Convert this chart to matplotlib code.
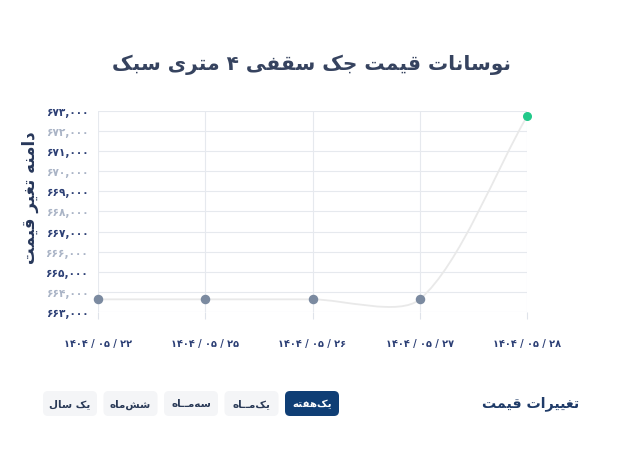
import re
import numpy as np
import matplotlib
matplotlib.use("Agg")
import matplotlib.pyplot as plt
from matplotlib.path import Path
from matplotlib.patches import PathPatch, FancyBboxPatch

# داده‌ها
dates = ["۱۴۰۴ / ۰۵ / ۲۲", "۱۴۰۴ / ۰۵ / ۲۵", "۱۴۰۴ / ۰۵ / ۲۶", "۱۴۰۴ / ۰۵ / ۲۷", "۱۴۰۴ / ۰۵ / ۲۸"]
prices = [663630, 663630, 663630, 663630, 672730]
y_ticks = [663000, 664000, 665000, 666000, 667000, 668000, 669000, 670000, 671000, 672000, 673000]
periods = ["یک سال", "شش\u200cماه", "سه\u200cمــاه", "یک\u200cمــاه", "یک\u200cهفته"]
selected = "یک\u200cهفته"

title = "نوسانات قیمت جک سقفی ۴ متری سبک"
ylabel = "دامنه تغیر قیمت"
footer = "تغییرات قیمت"

# شکل‌دهی ساده حروف فارسی (matplotlib خودش اتصال و راست‌به‌چپ ندارد)
FORMS = {
    "ا": ("\uFE8D", "\uFE8E", None, None),
    "ب": ("\uFE8F", "\uFE90", "\uFE91", "\uFE92"),
    "ت": ("\uFE95", "\uFE96", "\uFE97", "\uFE98"),
    "ج": ("\uFE9D", "\uFE9E", "\uFE9F", "\uFEA0"),
    "د": ("\uFEA9", "\uFEAA", None, None),
    "ر": ("\uFEAD", "\uFEAE", None, None),
    "س": ("\uFEB1", "\uFEB2", "\uFEB3", "\uFEB4"),
    "ش": ("\uFEB5", "\uFEB6", "\uFEB7", "\uFEB8"),
    "غ": ("\uFECD", "\uFECE", "\uFECF", "\uFED0"),
    "ف": ("\uFED1", "\uFED2", "\uFED3", "\uFED4"),
    "ق": ("\uFED5", "\uFED6", "\uFED7", "\uFED8"),
    "ک": ("\uFB8E", "\uFB8F", "\uFB90", "\uFB91"),
    "ل": ("\uFEDD", "\uFEDE", "\uFEDF", "\uFEE0"),
    "م": ("\uFEE1", "\uFEE2", "\uFEE3", "\uFEE4"),
    "ن": ("\uFEE5", "\uFEE6", "\uFEE7", "\uFEE8"),
    "ه": ("\uFEE9", "\uFEEA", "\uFEEB", "\uFEEC"),
    "و": ("\uFEED", "\uFEEE", None, None),
    "ی": ("\uFBFC", "\uFBFD", "\uFBFE", "\uFBFF"),
    "ـ": ("ـ", "ـ", "ـ", "ـ"),
}


def fa(s):
    out = []
    for i, c in enumerate(s):
        f = FORMS.get(c)
        if f is None:
            out.append(c)
            continue
        p = s[i - 1] if i > 0 else ""
        n = s[i + 1] if i + 1 < len(s) else ""
        jp = p in FORMS and FORMS[p][2] is not None
        jn = f[2] is not None and n in FORMS
        if jp and jn:
            out.append(f[3])
        elif jp:
            out.append(f[1])
        elif jn:
            out.append(f[2])
        else:
            out.append(f[0])
    vis = "".join(out).replace("\u200c", "")
    tokens = re.findall(r"[0-9۰-۹]+|.", vis)
    return "".join(reversed(tokens))


to_fa = str.maketrans("0123456789", "۰۱۲۳۴۵۶۷۸۹")

plt.rcParams["font.family"] = ["DejaVu Sans"]

W, H = 622, 456
fig = plt.figure(figsize=(W / 100, H / 100), dpi=100)
fig.patch.set_facecolor("white")

ax = fig.add_axes([98 / W, 1 - 313 / H, (527 - 98) / W, (313 - 112) / H])
x = np.arange(len(prices))
ax.set_xlim(0, len(prices) - 1)
ax.set_ylim(663000, 673000)

# منحنی نرم به سبک Chart.js
tension = 0.28
pts = ax.transData.transform(np.column_stack([x, prices]))
n = len(pts)
cp_prev = pts.copy()
cp_next = pts.copy()
for i in range(n):
    prev = pts[max(i - 1, 0)]
    nxt = pts[min(i + 1, n - 1)]
    d01 = np.hypot(*(pts[i] - prev))
    d12 = np.hypot(*(nxt - pts[i]))
    tot = d01 + d12 if d01 + d12 > 0 else 1
    cp_prev[i] = pts[i] - tension * d01 / tot * (nxt - prev)
    cp_next[i] = pts[i] + tension * d12 / tot * (nxt - prev)
verts = [pts[0]]
codes = [Path.MOVETO]
for i in range(n - 1):
    verts += [cp_next[i], cp_prev[i + 1], pts[i + 1]]
    codes += [Path.CURVE4] * 3
verts = ax.transData.inverted().transform(np.array(verts))
ax.add_patch(PathPatch(Path(verts, codes), facecolor="none", edgecolor="#e9e9e9",
                       lw=1.3, zorder=2, clip_on=False))

ax.scatter(x[:-1], prices[:-1], s=34, color="#7b8aa0", zorder=3, clip_on=False)
ax.scatter(x[-1:], prices[-1:], s=30, color="#22c98a", zorder=3, clip_on=False)

ax.set_xticks(x)
ax.set_xticklabels(dates, fontsize=7, fontweight="bold", color="#2c3f75")
ax.set_yticks(y_ticks)
ax.set_yticklabels([f"{v:,}".translate(to_fa) for v in y_ticks], fontsize=7.6, fontweight="bold")
for i, lab in enumerate(ax.get_yticklabels()):
    lab.set_color("#2c3f75" if i % 2 == 0 else "#aab4c6")
ax.tick_params(axis="x", length=5, color="#dfe3ea", width=0.8, pad=14)
ax.tick_params(axis="y", length=0, pad=7)
ax.grid(True, color="#e6e9ee", lw=0.8)
ax.set_axisbelow(True)
for sp in ax.spines.values():
    sp.set_visible(False)

# لایه‌ی رویی با مختصات پیکسلی
ov = fig.add_axes([0, 0, 1, 1], zorder=-1)
ov.set_xlim(0, W)
ov.set_ylim(H, 0)
ov.axis("off")

ov.text(311, 65, fa(title), ha="center", va="center", fontsize=14.5,
        fontweight="bold", color="#36435f")
ov.text(30, 198, fa(ylabel), ha="center", va="center", rotation=90,
        fontsize=12, fontweight="bold", color="#27375a")
ov.text(579, 404, fa(footer), ha="right", va="center", fontsize=10.2,
        fontweight="bold", color="#1f3b68")

bx = 43
for p in periods:
    sel = p == selected
    ov.add_patch(FancyBboxPatch((bx, 392), 54, 25, boxstyle="round,pad=0,rounding_size=5",
                                facecolor="#0f3e75" if sel else "#f4f5f7",
                                edgecolor="none"))
    ov.text(bx + 27, 404.5, fa(p), ha="center", va="center", fontsize=7.5,
            fontweight="bold", color="white" if sel else "#2a3a57")
    bx += 60.5

fig.savefig("out.png", dpi=100, facecolor="white")
